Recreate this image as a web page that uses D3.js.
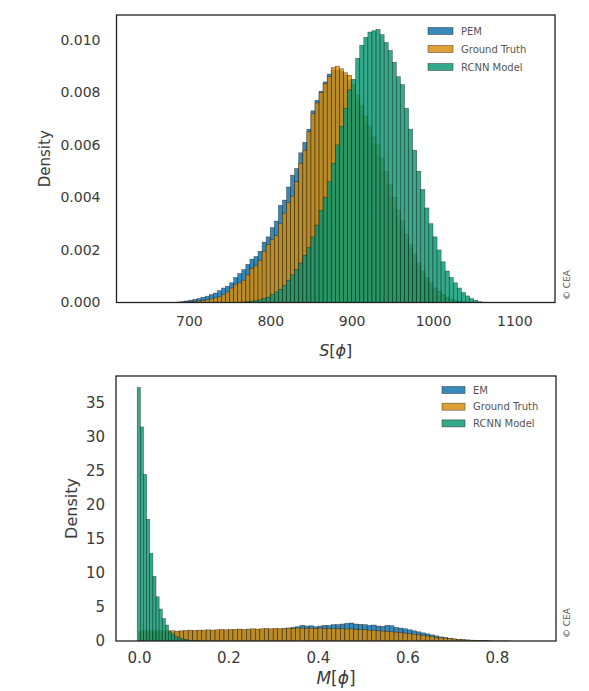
<!DOCTYPE html>
<html><head><meta charset="utf-8">
<script src="https://cdn.jsdelivr.net/npm/d3@7"></script>
<style>
html,body{margin:0;padding:0;background:#fff;}
svg{display:block;font-family:"DejaVu Sans",sans-serif;}
</style></head>
<body><svg id="c" width="589" height="691"></svg>
<script>
// ---------- DATA: top panel, S[phi] densities (units of 1e-3), bins of 5 starting at 680 ----------
const topBinStart = 680, topBinWidth = 5;
const topSeriesNames = ["PEM", "Ground Truth", "RCNN Model"];
const topPEM = [
  0, 0.02, 0.04, 0.06, 0.09, 0.12, 0.15, 0.2, 0.24, 0.3,
  0.36, 0.45, 0.55, 0.62, 0.75, 0.95, 1.1, 1.25, 1.45, 1.65,
  1.75, 1.95, 2.3, 2.5, 2.85, 3.1, 3.7, 3.9, 4.4, 4.85,
  5.1, 5.7, 6.1, 6.6, 7.3, 7.7, 8.05, 8.4, 8.7, 8.85,
  8.85, 8.8, 8.65, 8.45, 8.1, 7.7, 7.3, 6.8, 6.4, 6.0,
  5.5, 5.0, 4.5, 4.0, 3.6, 3.2, 2.8, 2.4, 2.05, 1.7,
  1.4, 1.15, 0.9, 0.72, 0.55, 0.42, 0.3, 0.2, 0.13, 0.08,
  0.05, 0.03, 0.02, 0.01, 0, 0, 0];
const topGroundTruth = [
  0, 0, 0.01, 0.02, 0.03, 0.04, 0.06, 0.08, 0.1, 0.14,
  0.18, 0.22, 0.3, 0.4, 0.55, 0.7, 0.75, 0.85, 1.05, 1.3,
  1.4, 1.6, 1.95, 2.2, 2.4, 2.55, 3.0, 3.4, 3.8, 4.05,
  4.6, 5.3, 5.8, 6.5, 7.2, 7.6, 8.0, 8.35, 8.6, 8.95,
  9.0, 8.9, 8.75, 8.65, 8.3, 7.9, 7.5, 7.1, 6.7, 6.3,
  6.0, 5.5, 5.0, 4.5, 4.0, 3.5, 3.1, 2.6, 2.2, 1.85,
  1.5, 1.2, 0.95, 0.75, 0.55, 0.4, 0.28, 0.19, 0.12, 0.07,
  0.04, 0.02, 0.01, 0, 0, 0, 0];
const topRCNN = [
  0, 0, 0, 0, 0, 0, 0, 0, 0, 0,
  0, 0, 0, 0, 0, 0, 0.01, 0.02, 0.03, 0.05,
  0.07, 0.1, 0.15, 0.2, 0.3, 0.4, 0.5, 0.65, 0.85, 1.05,
  1.25, 1.5, 1.8, 2.1, 2.5, 2.95, 3.5, 4.0, 4.6, 5.3,
  6.0, 6.7, 7.4, 8.1, 8.5, 9.3, 9.8, 10.1, 10.3, 10.35,
  10.4, 10.2, 9.9, 9.6, 9.15, 8.6, 8.3, 7.4, 6.6, 5.8,
  5.0, 4.3, 3.6, 3.0, 2.5, 2.0, 1.55, 1.2, 0.95, 0.75,
  0.55, 0.38, 0.25, 0.15, 0.08, 0.03, 0.01];
const topUnit = 1e-3;
const topXTicks = [700, 800, 900, 1000, 1100];
const topYTicks = [0, 0.002, 0.004, 0.006, 0.008, 0.010];

// ---------- DATA: bottom panel, M[phi] densities ----------
const botSeriesNames = ["EM", "Ground Truth", "RCNN Model"];
const botEMStart = 0, botEMWidth = 0.01;
const botEM = [
  1.3, 1.3, 1.3, 1.3, 1.3, 1.3, 1.3, 1.3, 1.35, 1.4,
  1.45, 1.5, 1.45, 1.5, 1.5, 1.55, 1.5, 1.55, 1.6, 1.55,
  1.6, 1.6, 1.65, 1.6, 1.65, 1.7, 1.65, 1.7, 1.75, 1.7,
  1.75, 1.75, 1.8, 1.9, 2.0, 2.1, 2.3, 2.2, 2.25, 2.1,
  2.2, 2.3, 2.3, 2.4, 2.4, 2.5, 2.6, 2.65, 2.5, 2.45,
  2.4, 2.3, 2.35, 2.2, 2.15, 2.3, 2.25, 2.0, 1.9, 1.8,
  1.65, 1.5, 1.35, 1.2, 1.05, 0.9, 0.75, 0.6, 0.5, 0.4,
  0.3, 0.22, 0.16, 0.12, 0.08, 0.05, 0.03, 0.02, 0.01, 0];
const botGTStart = 0, botGTWidth = 0.01;
const botGroundTruth = [
  1.5, 1.5, 1.5, 1.5, 1.5, 1.5, 1.5, 1.5, 1.45, 1.5,
  1.55, 1.6, 1.55, 1.6, 1.6, 1.65, 1.6, 1.65, 1.7, 1.65,
  1.7, 1.7, 1.75, 1.7, 1.75, 1.8, 1.75, 1.8, 1.85, 1.8,
  1.85, 1.8, 1.85, 1.9, 1.85, 1.9, 1.9, 1.85, 1.9, 1.85,
  1.9, 1.85, 1.8, 1.85, 1.8, 1.8, 1.75, 1.8, 1.7, 1.7,
  1.65, 1.6, 1.55, 1.5, 1.45, 1.4, 1.35, 1.3, 1.25, 1.15,
  1.1, 1.0, 0.9, 0.85, 0.75, 0.65, 0.55, 0.5, 0.42, 0.36,
  0.3, 0.25, 0.2, 0.16, 0.12, 0.09, 0.07, 0.05, 0.04, 0.03,
  0.02, 0.01, 0.01];
const botRCNNStart = -0.004, botRCNNWidth = 0.007;
const botRCNN = [37.3, 31.5, 24.5, 17.9, 12.9, 9.5, 6.5, 4.7, 3.3, 2.35,
  1.35, 1.0, 0.7, 0.45, 0.3, 0.2, 0.12, 0.08, 0.05, 0.03, 0.02];
const botXTicks = [0.0, 0.2, 0.4, 0.6, 0.8];
const botYTicks = [0, 5, 10, 15, 20, 25, 30, 35];

// ---------- STYLE ----------
const colors = ["#0a6fa8", "#d88c08", "#079770"];
const fillOp = 0.82;
const svg = d3.select("#c");

function drawPanel(cfg) {
  const g = svg.append("g");
  const x = d3.scaleLinear().domain(cfg.xDomain).range([cfg.left, cfg.right]);
  const y = d3.scaleLinear().domain(cfg.yDomain).range([cfg.bottom, cfg.top]);
  const clipId = "clip" + cfg.id;
  svg.append("clipPath").attr("id", clipId).append("rect")
    .attr("x", cfg.left).attr("y", cfg.top)
    .attr("width", cfg.right - cfg.left).attr("height", cfg.bottom - cfg.top);
  const plot = g.append("g").attr("clip-path", `url(#${clipId})`);
  cfg.series.forEach((s, si) => {
    const bins = s.values.map((v, i) => ({
      x0: s.start + i * s.width, x1: s.start + (i + 1) * s.width, v: v * s.unit
    })).filter(d => d.v > 0);
    plot.append("g").selectAll("rect").data(bins).join("rect")
      .attr("x", d => x(d.x0))
      .attr("width", d => Math.max(0, x(d.x1) - x(d.x0)))
      .attr("y", d => y(d.v))
      .attr("height", d => y(0) - y(d.v))
      .attr("fill", colors[si]).attr("fill-opacity", fillOp)
      .attr("stroke", "#141414").attr("stroke-opacity", 0.6).attr("stroke-width", 0.6);
  });
  // axes
  const xa = g.append("g").attr("transform", `translate(0,${cfg.bottom})`)
    .call(d3.axisBottom(x).tickValues(cfg.xTicks).tickSize(0).tickPadding(cfg.xPad).tickFormat(cfg.xFmt));
  const ya = g.append("g").attr("transform", `translate(${cfg.left},0)`)
    .call(d3.axisLeft(y).tickValues(cfg.yTicks).tickSize(0).tickPadding(cfg.yPad).tickFormat(cfg.yFmt));
  [xa, ya].forEach(a => {
    a.select(".domain").remove();
    a.selectAll("text").attr("font-family", "DejaVu Sans").attr("font-size", cfg.tickFs).attr("fill", "#3a3a3a");
  });
  // frame
  g.append("rect").attr("x", cfg.left).attr("y", cfg.top)
    .attr("width", cfg.right - cfg.left).attr("height", cfg.bottom - cfg.top)
    .attr("fill", "none").attr("stroke", "#222").attr("stroke-width", 1.3);
  // y label
  g.append("text").attr("transform", `translate(${cfg.yLabelX},${(cfg.top + cfg.bottom) / 2}) rotate(-90)`)
    .attr("text-anchor", "middle").attr("dominant-baseline", "middle")
    .attr("font-size", cfg.labelFs).attr("fill", "#3a3a3a").text("Density");
  // x label
  const xl = g.append("text").attr("x", (cfg.left + cfg.right) / 2).attr("y", cfg.xLabelY)
    .attr("text-anchor", "middle").attr("font-size", cfg.labelFs + 1).attr("fill", "#3a3a3a");
  xl.append("tspan").attr("font-style", "italic").text(cfg.xSym);
  xl.append("tspan").text("[");
  xl.append("tspan").attr("font-style", "italic").text("ϕ");
  xl.append("tspan").text("]");
  // legend
  const lg = g.append("g").attr("transform", `translate(${cfg.legX},${cfg.legY})`);
  cfg.names.forEach((n, i) => {
    const row = lg.append("g").attr("transform", `translate(0,${i * cfg.legStep})`);
    row.append("rect").attr("x", 0).attr("y", -3.5).attr("width", cfg.swW).attr("height", 7)
      .attr("fill", colors[i]).attr("fill-opacity", fillOp)
      .attr("stroke", "#1a1a1a").attr("stroke-opacity", 0.6).attr("stroke-width", 0.7);
    row.append("text").attr("x", cfg.swW + 8).attr("y", 0).attr("dominant-baseline", "central")
      .attr("font-size", 10).attr("fill", "#555").text(n);
  });
  // copyright
  g.append("text").attr("transform", `translate(567,${cfg.copyY}) rotate(-90)`)
    .attr("text-anchor", "middle").attr("dominant-baseline", "middle")
    .attr("font-size", 9).attr("fill", "#555").text("© CEA");
}

drawPanel({
  id: "top", left: 116.5, right: 555, top: 15, bottom: 302.5,
  xDomain: [611, 1150], yDomain: [0, 0.01095],
  series: [
    {values: topPEM, start: topBinStart, width: topBinWidth, unit: topUnit},
    {values: topGroundTruth, start: topBinStart, width: topBinWidth, unit: topUnit},
    {values: topRCNN, start: topBinStart, width: topBinWidth, unit: topUnit}],
  xTicks: topXTicks, yTicks: topYTicks,
  xFmt: d3.format("d"), yFmt: d3.format(".3f"),
  xPad: 14, yPad: 16, tickFs: 14, labelFs: 15,
  yLabelX: 45, xLabelY: 356, xSym: "S",
  names: topSeriesNames, legX: 428, legY: 31, legStep: 18, swW: 25, copyY: 285
});
drawPanel({
  id: "bot", left: 116, right: 556, top: 376, bottom: 641,
  xDomain: [-0.0514, 0.932], yDomain: [0, 39.0],
  series: [
    {values: botEM, start: botEMStart, width: botEMWidth, unit: 1},
    {values: botGroundTruth, start: botGTStart, width: botGTWidth, unit: 1},
    {values: botRCNN, start: botRCNNStart, width: botRCNNWidth, unit: 1}],
  xTicks: botXTicks, yTicks: botYTicks,
  xFmt: d3.format(".1f"), yFmt: d3.format("d"),
  xPad: 11, yPad: 11, tickFs: 15, labelFs: 16,
  yLabelX: 72, xLabelY: 684, xSym: "M",
  names: botSeriesNames, legX: 442, legY: 390, legStep: 16.7, swW: 23, copyY: 623
});
</script></body></html>
